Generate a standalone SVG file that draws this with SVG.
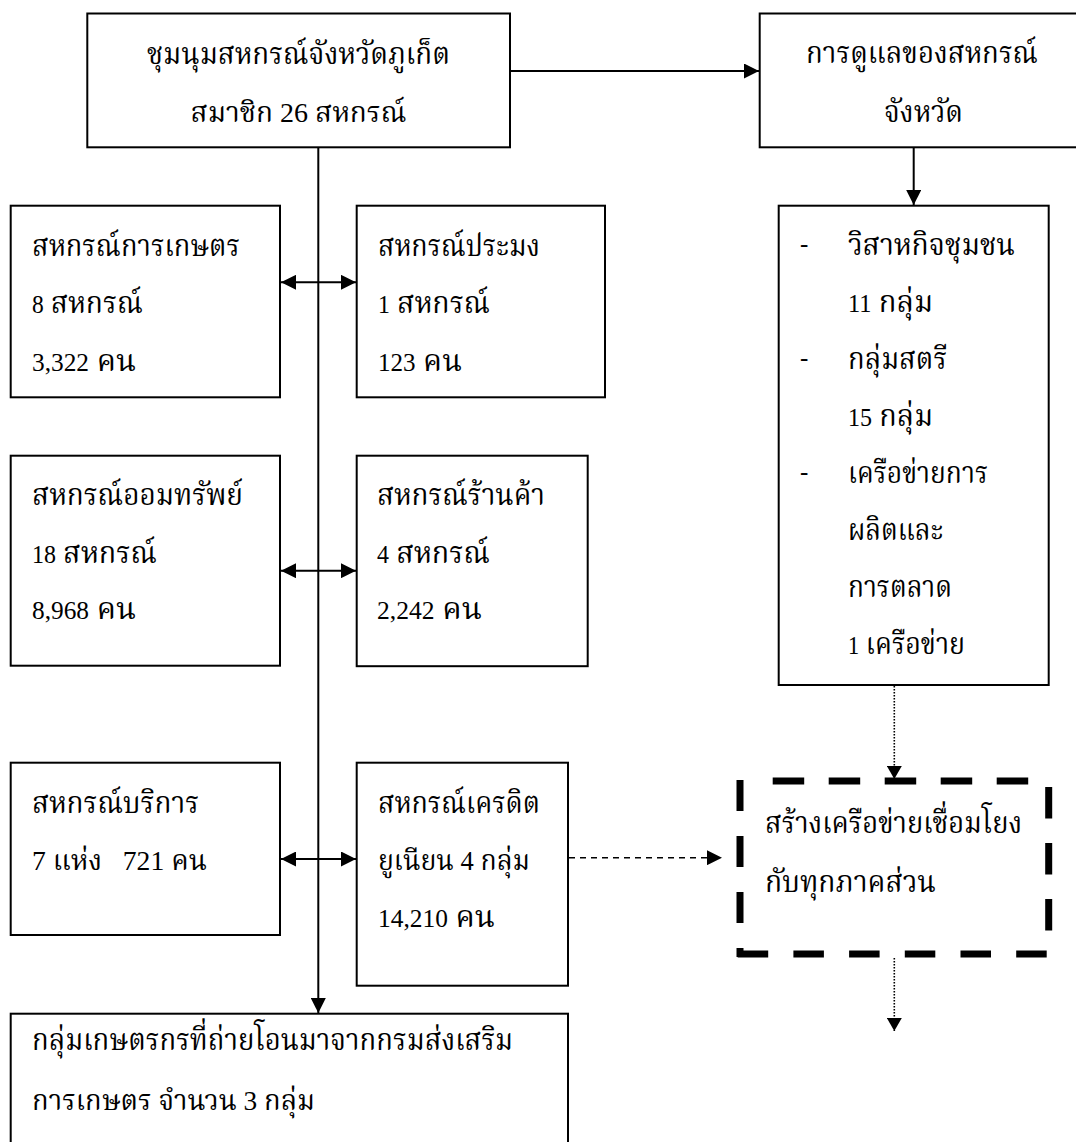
<svg xmlns="http://www.w3.org/2000/svg" width="1076" height="1142" viewBox="0 0 1076 1142">
<defs>
<style>
.box{fill:#fff;stroke:#000;stroke-width:2}
.t{font-family:"Liberation Serif","Norasi","Noto Serif Thai","Tlwg Typo","DejaVu Serif",serif;font-size:30px;fill:#000}
.m{font-size:28px}
.n{font-size:25px}
.c{text-anchor:middle}
.ln{stroke:#000;stroke-width:2;fill:none}
.dash{stroke:#000;stroke-width:1.6;stroke-dasharray:6 5;fill:none}
.dot{stroke:#000;stroke-width:1.6;stroke-dasharray:1.5 1.5;fill:none}
.bd{stroke:#000;stroke-width:7;fill:none}
</style>
<marker id="ah" markerUnits="userSpaceOnUse" markerWidth="15" markerHeight="15" viewBox="0 0 15 15" refX="15" refY="7.5" orient="auto-start-reverse">
<path d="M0,0 L15,7.5 L0,15 z" fill="#000"/>
</marker>
<marker id="ahs" markerUnits="userSpaceOnUse" markerWidth="13" markerHeight="15" viewBox="0 0 13 15" refX="13" refY="7.5" orient="auto">
<path d="M0,0 L13,7.5 L0,15 z" fill="#000"/>
</marker>
</defs>
<rect width="1076" height="1142" fill="#fff"/>

<g id="connectors">
<line class="ln" x1="510" y1="71" x2="759" y2="71" marker-end="url(#ah)"/>
<line class="ln" x1="318.3" y1="147" x2="318.3" y2="1013" marker-end="url(#ah)"/>
<line class="ln" x1="281" y1="282.3" x2="356" y2="282.3" marker-start="url(#ah)" marker-end="url(#ah)"/>
<line class="ln" x1="281" y1="570.7" x2="356" y2="570.7" marker-start="url(#ah)" marker-end="url(#ah)"/>
<line class="ln" x1="281" y1="859" x2="356" y2="859" marker-start="url(#ah)" marker-end="url(#ah)"/>
<line class="ln" x1="913.7" y1="147" x2="913.7" y2="205" marker-end="url(#ah)"/>
<line class="dot" x1="894.3" y1="686" x2="894.3" y2="779" marker-end="url(#ahs)"/>
<line class="dash" x1="569" y1="857.7" x2="722" y2="857.7" marker-end="url(#ah)"/>
<line class="dot" x1="894.3" y1="958" x2="894.3" y2="1031" marker-end="url(#ahs)"/>
</g>

<g id="n-top">
<rect class="box" x="87.3" y="13.5" width="422.7" height="133.8"/>
<text class="t c" x="298.5" y="64" textLength="303" lengthAdjust="spacingAndGlyphs">ชุมนุมสหกรณ์จังหวัดภูเก็ต</text>
<text class="t m c" x="298.5" y="122" textLength="216" lengthAdjust="spacingAndGlyphs">สมาชิก 26 สหกรณ์</text>
</g>

<g id="n-care">
<rect class="box" x="759.7" y="13.5" width="324" height="133.8"/>
<text class="t c" x="922" y="63" textLength="232" lengthAdjust="spacingAndGlyphs">การดูแลของสหกรณ์</text>
<text class="t c" x="923.5" y="121.7" textLength="79" lengthAdjust="spacingAndGlyphs">จังหวัด</text>
</g>

<g id="n-agri">
<rect class="box" x="10.7" y="205.7" width="269.3" height="191.6"/>
<text class="t" x="32" y="256" textLength="208" lengthAdjust="spacingAndGlyphs">สหกรณ์การเกษตร</text>
<text class="t" x="32" y="313" textLength="111" lengthAdjust="spacingAndGlyphs"><tspan class="n">8</tspan> สหกรณ์</text>
<text class="t" x="32" y="370.7" textLength="104" lengthAdjust="spacingAndGlyphs"><tspan class="n">3,322</tspan> คน</text>
</g>

<g id="n-fish">
<rect class="box" x="356.7" y="205.7" width="248.3" height="191.6"/>
<text class="t" x="378" y="256" textLength="162" lengthAdjust="spacingAndGlyphs">สหกรณ์ประมง</text>
<text class="t" x="378" y="313" textLength="112" lengthAdjust="spacingAndGlyphs"><tspan class="n">1</tspan> สหกรณ์</text>
<text class="t" x="378" y="370.7" textLength="84" lengthAdjust="spacingAndGlyphs"><tspan class="n">123</tspan> คน</text>
</g>

<g id="n-save">
<rect class="box" x="10.7" y="455.7" width="269.3" height="210"/>
<text class="t" x="32" y="505" textLength="211" lengthAdjust="spacingAndGlyphs">สหกรณ์ออมทรัพย์</text>
<text class="t" x="32" y="562.7" textLength="125" lengthAdjust="spacingAndGlyphs"><tspan class="n">18</tspan> สหกรณ์</text>
<text class="t" x="32" y="619" textLength="104" lengthAdjust="spacingAndGlyphs"><tspan class="n">8,968</tspan> คน</text>
</g>

<g id="n-shop">
<rect class="box" x="356.7" y="455.7" width="231" height="210.5"/>
<text class="t" x="377" y="505" textLength="168" lengthAdjust="spacingAndGlyphs">สหกรณ์ร้านค้า</text>
<text class="t" x="377" y="562.7" textLength="113" lengthAdjust="spacingAndGlyphs"><tspan class="n">4</tspan> สหกรณ์</text>
<text class="t" x="377" y="619" textLength="105" lengthAdjust="spacingAndGlyphs"><tspan class="n">2,242</tspan> คน</text>
</g>

<g id="n-service">
<rect class="box" x="10.7" y="762.7" width="269.3" height="172.3"/>
<text class="t" x="32" y="812.7" textLength="167" lengthAdjust="spacingAndGlyphs">สหกรณ์บริการ</text>
<text class="t m" x="32" y="870" textLength="175" lengthAdjust="spacingAndGlyphs" xml:space="preserve">7 แห่ง   721 คน</text>
</g>

<g id="n-credit">
<rect class="box" x="356.7" y="762.7" width="211.3" height="223"/>
<text class="t" x="378" y="812.7" textLength="162" lengthAdjust="spacingAndGlyphs">สหกรณ์เครดิต</text>
<text class="t m" x="378" y="870" textLength="152" lengthAdjust="spacingAndGlyphs">ยูเนียน 4 กลุ่ม</text>
<text class="t" x="378" y="927" textLength="117" lengthAdjust="spacingAndGlyphs"><tspan class="n">14,210</tspan> คน</text>
</g>

<g id="n-farmers">
<rect class="box" x="10.7" y="1013.7" width="557.3" height="150"/>
<text class="t" x="32" y="1050" textLength="481" lengthAdjust="spacingAndGlyphs">กลุ่มเกษตรกรที่ถ่ายโอนมาจากกรมส่งเสริม</text>
<text class="t m" x="32" y="1110" textLength="283" lengthAdjust="spacingAndGlyphs">การเกษตร จำนวน 3 กลุ่ม</text>
</g>

<g id="n-community">
<rect class="box" x="778.7" y="205.7" width="270" height="479.3"/>
<text class="t n" x="800" y="252">-</text>
<text class="t" x="848" y="255" textLength="167" lengthAdjust="spacingAndGlyphs">วิสาหกิจชุมชน</text>
<text class="t" x="848" y="312" textLength="85" lengthAdjust="spacingAndGlyphs"><tspan class="n">11</tspan> กลุ่ม</text>
<text class="t n" x="800" y="366">-</text>
<text class="t" x="848" y="369" textLength="99" lengthAdjust="spacingAndGlyphs">กลุ่มสตรี</text>
<text class="t" x="848" y="426" textLength="85" lengthAdjust="spacingAndGlyphs"><tspan class="n">15</tspan> กลุ่ม</text>
<text class="t n" x="800" y="480">-</text>
<text class="t" x="848" y="483" textLength="140" lengthAdjust="spacingAndGlyphs">เครือข่ายการ</text>
<text class="t" x="848" y="540" textLength="95" lengthAdjust="spacingAndGlyphs">ผลิตและ</text>
<text class="t" x="848" y="597" textLength="104" lengthAdjust="spacingAndGlyphs">การตลาด</text>
<text class="t" x="848" y="654" textLength="117" lengthAdjust="spacingAndGlyphs"><tspan class="n">1</tspan> เครือข่าย</text>
</g>

<g id="n-network">
<line class="bd" x1="772.7" y1="781" x2="1029" y2="781" stroke-dasharray="31.5 24.5"/>
<line class="bd" x1="740" y1="780" x2="740" y2="926" stroke-dasharray="31 25"/>
<line class="bd" x1="1048.7" y1="787" x2="1048.7" y2="931" stroke-dasharray="31.5 24.5"/>
<line class="bd" x1="737.7" y1="954" x2="1048" y2="954" stroke-dasharray="30.5 25.2"/>
<line class="bd" x1="740" y1="948" x2="740" y2="957"/>
<text class="t" x="765" y="833" textLength="257" lengthAdjust="spacingAndGlyphs">สร้างเครือข่ายเชื่อมโยง</text>
<text class="t" x="765" y="892" textLength="171" lengthAdjust="spacingAndGlyphs">กับทุกภาคส่วน</text>
</g>
</svg>
